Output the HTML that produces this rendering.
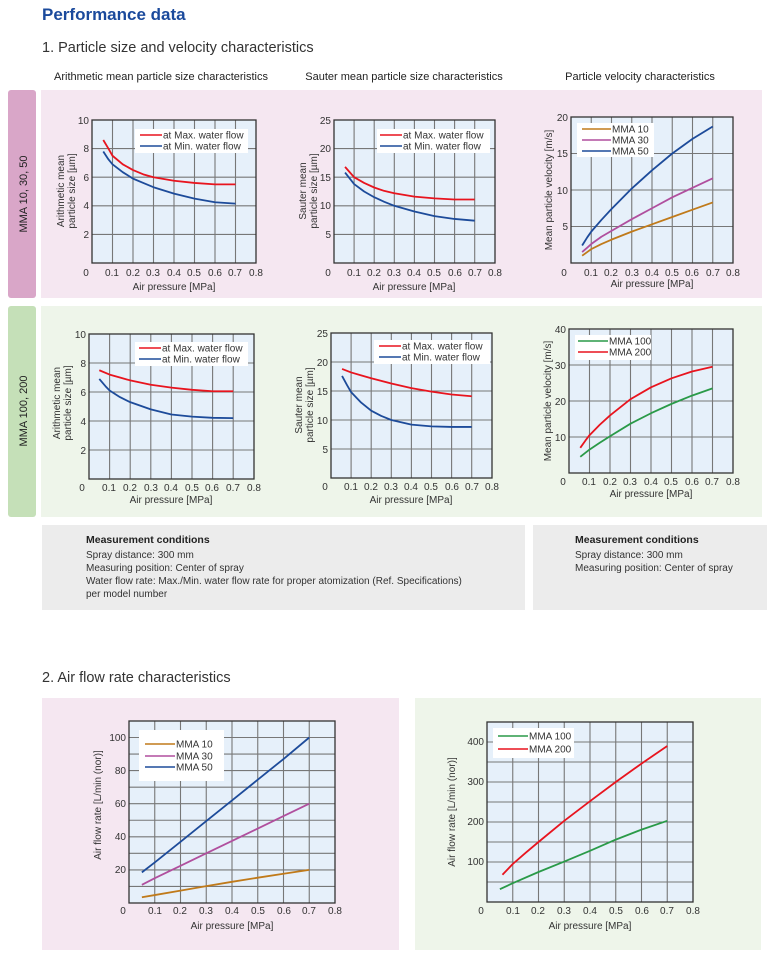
<!DOCTYPE html>
<html><head><meta charset="utf-8"><style>
html,body{margin:0;padding:0;background:#fff}
svg{display:block;font-family:"Liberation Sans",sans-serif}
.t{font-size:10px;fill:#333}
.lg{font-size:10px;fill:#333}
.gr{stroke:#777;stroke-width:1.1;vector-effect:non-scaling-stroke;fill:none}
.c{fill:none;stroke-width:1.8;vector-effect:non-scaling-stroke;stroke-linejoin:round}
.mt{font-size:10px;fill:#333}
</style></head><body>
<svg width="769" height="960" viewBox="0 0 769 960">
<text x="42" y="20" font-size="17" fill="#1b4a9c" font-weight="bold">Performance data</text>
<text x="42" y="52" font-size="14.5" fill="#333">1. Particle size and velocity characteristics</text>
<g font-size="11" fill="#222" text-anchor="middle">
<text x="161" y="80">Arithmetic mean particle size characteristics</text>
<text x="404" y="80">Sauter mean particle size characteristics</text>
<text x="640" y="80">Particle velocity characteristics</text></g>

<rect x="8" y="90" width="28" height="208" rx="3" fill="#d9a6c8"/>
<rect x="41" y="90" width="721" height="208" fill="#f5e7f1"/>
<text transform="translate(27,194) rotate(-90)" font-size="11" text-anchor="middle" fill="#222">MMA 10, 30, 50</text>
<rect x="8" y="306" width="28" height="211" rx="3" fill="#c5e0b8"/>
<rect x="41" y="306" width="721" height="211" fill="#eef5ea"/>
<text transform="translate(27,411) rotate(-90)" font-size="11" text-anchor="middle" fill="#222">MMA 100, 200</text>

<!-- Chart A1 -->
<rect x="92" y="120" width="164" height="143" fill="#e6f0fa"/>
<g transform="translate(92,263) scale(20.5,-14.3)">
<path class="gr" d="M1 0V10M2 0V10M3 0V10M4 0V10M5 0V10M6 0V10M7 0V10M0 2H8M0 4H8M0 6H8M0 8H8"/>
<polyline class="c" stroke="#e8141e" points="0.55,8.6 0.8,8 1,7.5 1.5,6.9 2,6.5 2.5,6.2 3,6 4,5.75 5,5.6 6,5.5 7,5.5"/>
<polyline class="c" stroke="#1d4b9a" points="0.55,7.8 0.8,7.25 1,6.9 1.5,6.35 2,5.9 2.5,5.6 3,5.3 4,4.85 5,4.5 6,4.25 7,4.15"/>
</g>
<rect x="92" y="120" width="164" height="143" fill="none" stroke="#333" stroke-width="1.3"/>
<rect x="135" y="129" width="113" height="24" fill="#fff"/>
<line x1="140" y1="135" x2="162" y2="135" stroke="#e8141e" stroke-width="1.6"/><text class="lg" x="163" y="138.5">at Max. water flow</text>
<line x1="140" y1="146" x2="162" y2="146" stroke="#1d4b9a" stroke-width="1.6"/><text class="lg" x="163" y="149.5">at Min. water flow</text>
<g class="t" text-anchor="end"><text x="89" y="124">10</text><text x="89" y="152">8</text><text x="89" y="181">6</text><text x="89" y="209">4</text><text x="89" y="238">2</text></g>
<g class="t" text-anchor="middle"><text x="86" y="276">0</text><text x="112" y="276">0.1</text><text x="133" y="276">0.2</text><text x="153" y="276">0.3</text><text x="174" y="276">0.4</text><text x="194" y="276">0.5</text><text x="215" y="276">0.6</text><text x="235" y="276">0.7</text><text x="256" y="276">0.8</text></g>
<text class="t" x="174" y="290" text-anchor="middle">Air pressure [MPa]</text>
<text class="t" transform="translate(64,191) rotate(-90)" text-anchor="middle">Arithmetic mean</text>
<text class="t" transform="translate(75,191) rotate(-90)" text-anchor="middle">particle size [µm]</text>

<!-- Chart S1 -->
<rect x="334" y="120" width="161" height="143" fill="#e6f0fa"/>
<g transform="translate(334,263) scale(20.1,-5.72)">
<path class="gr" d="M1 0V25M2 0V25M3 0V25M4 0V25M5 0V25M6 0V25M7 0V25M0 5H8M0 10H8M0 15H8M0 20H8"/>
<polyline class="c" stroke="#e8141e" points="0.55,16.8 0.8,15.8 1,15 1.5,14 2,13.2 2.5,12.6 3,12.2 4,11.6 5,11.3 6,11.1 7,11.1"/>
<polyline class="c" stroke="#1d4b9a" points="0.55,15.8 0.8,14.7 1,13.8 1.5,12.5 2,11.5 2.5,10.7 3,10 4,9 5,8.2 6,7.7 7,7.4"/>
</g>
<rect x="334" y="120" width="161" height="143" fill="none" stroke="#333" stroke-width="1.3"/>
<rect x="377" y="129" width="113" height="24" fill="#fff"/>
<line x1="380" y1="135" x2="402" y2="135" stroke="#e8141e" stroke-width="1.6"/><text class="lg" x="403" y="138.5">at Max. water flow</text>
<line x1="380" y1="146" x2="402" y2="146" stroke="#1d4b9a" stroke-width="1.6"/><text class="lg" x="403" y="149.5">at Min. water flow</text>
<g class="t" text-anchor="end"><text x="331" y="124">25</text><text x="331" y="152">20</text><text x="331" y="181">15</text><text x="331" y="209">10</text><text x="331" y="238">5</text></g>
<g class="t" text-anchor="middle"><text x="328" y="276">0</text><text x="354" y="276">0.1</text><text x="374" y="276">0.2</text><text x="394" y="276">0.3</text><text x="414" y="276">0.4</text><text x="434" y="276">0.5</text><text x="455" y="276">0.6</text><text x="475" y="276">0.7</text><text x="495" y="276">0.8</text></g>
<text class="t" x="414" y="290" text-anchor="middle">Air pressure [MPa]</text>
<text class="t" transform="translate(306,191) rotate(-90)" text-anchor="middle">Sauter mean</text>
<text class="t" transform="translate(317,191) rotate(-90)" text-anchor="middle">particle size [µm]</text>

<!-- Chart V1 -->
<rect x="571" y="117" width="162" height="146" fill="#e6f0fa"/>
<g transform="translate(571,263) scale(20.25,-7.3)">
<path class="gr" d="M1 0V20M2 0V20M3 0V20M4 0V20M5 0V20M6 0V20M7 0V20M0 5H8M0 10H8M0 15H8"/>
<polyline class="c" stroke="#c07a1a" points="0.55,1 0.8,1.5 1,1.9 1.5,2.6 2,3.2 3,4.3 4,5.3 5,6.3 6,7.3 7,8.3"/>
<polyline class="c" stroke="#b04f9e" points="0.55,1.5 0.8,2.1 1,2.6 1.5,3.6 2,4.4 3,6 4,7.5 5,9 6,10.3 7,11.6"/>
<polyline class="c" stroke="#1d4b9a" points="0.55,2.4 0.8,3.5 1,4.3 1.5,5.9 2,7.4 3,10.2 4,12.7 5,15 6,17 7,18.7"/>
</g>
<rect x="571" y="117" width="162" height="146" fill="none" stroke="#333" stroke-width="1.3"/>
<rect x="577" y="123" width="77" height="34" fill="#fff"/>
<line x1="582" y1="129" x2="611" y2="129" stroke="#c07a1a" stroke-width="1.6"/><text class="lg" x="612" y="132.5">MMA 10</text>
<line x1="582" y1="140" x2="611" y2="140" stroke="#b04f9e" stroke-width="1.6"/><text class="lg" x="612" y="143.5">MMA 30</text>
<line x1="582" y1="151" x2="611" y2="151" stroke="#1d4b9a" stroke-width="1.6"/><text class="lg" x="612" y="154.5">MMA 50</text>
<g class="t" text-anchor="end"><text x="568" y="121">20</text><text x="568" y="157">15</text><text x="568" y="194">10</text><text x="568" y="230">5</text></g>
<g class="t" text-anchor="middle"><text x="564" y="276">0</text><text x="591" y="276">0.1</text><text x="611" y="276">0.2</text><text x="632" y="276">0.3</text><text x="652" y="276">0.4</text><text x="672" y="276">0.5</text><text x="692" y="276">0.6</text><text x="713" y="276">0.7</text><text x="733" y="276">0.8</text></g>
<text class="t" x="652" y="287" text-anchor="middle">Air pressure [MPa]</text>
<text class="t" transform="translate(552,190) rotate(-90)" text-anchor="middle">Mean particle velocity  [m/s]</text>

<!-- Chart A2 -->
<rect x="89" y="334" width="165" height="145" fill="#e6f0fa"/>
<g transform="translate(89,479) scale(20.6,-14.5)">
<path class="gr" d="M1 0V10M2 0V10M3 0V10M4 0V10M5 0V10M6 0V10M7 0V10M0 2H8M0 4H8M0 6H8M0 8H8"/>
<polyline class="c" stroke="#e8141e" points="0.5,7.5 1,7.2 1.5,7 2,6.8 3,6.5 4,6.3 5,6.15 6,6.05 7,6.05"/>
<polyline class="c" stroke="#1d4b9a" points="0.5,6.9 0.8,6.4 1,6.1 1.5,5.65 2,5.3 3,4.8 4,4.45 5,4.3 6,4.22 7,4.2"/>
</g>
<rect x="89" y="334" width="165" height="145" fill="none" stroke="#333" stroke-width="1.3"/>
<rect x="135" y="342" width="113" height="24" fill="#fff"/>
<line x1="139" y1="348" x2="161" y2="348" stroke="#e8141e" stroke-width="1.6"/><text class="lg" x="162" y="351.5">at Max. water flow</text>
<line x1="139" y1="359" x2="161" y2="359" stroke="#1d4b9a" stroke-width="1.6"/><text class="lg" x="162" y="362.5">at Min. water flow</text>
<g class="t" text-anchor="end"><text x="86" y="338">10</text><text x="86" y="367">8</text><text x="86" y="396">6</text><text x="86" y="425">4</text><text x="86" y="454">2</text></g>
<g class="t" text-anchor="middle"><text x="82" y="491">0</text><text x="109" y="491">0.1</text><text x="130" y="491">0.2</text><text x="151" y="491">0.3</text><text x="171" y="491">0.4</text><text x="192" y="491">0.5</text><text x="212" y="491">0.6</text><text x="233" y="491">0.7</text><text x="254" y="491">0.8</text></g>
<text class="t" x="171" y="503" text-anchor="middle">Air pressure [MPa]</text>
<text class="t" transform="translate(60,403) rotate(-90)" text-anchor="middle">Arithmetic mean</text>
<text class="t" transform="translate(71,403) rotate(-90)" text-anchor="middle">particle size [µm]</text>

<!-- Chart S2 -->
<rect x="331" y="333" width="161" height="145" fill="#e6f0fa"/>
<g transform="translate(331,478) scale(20.1,-5.8)">
<path class="gr" d="M1 0V25M2 0V25M3 0V25M4 0V25M5 0V25M6 0V25M7 0V25M0 5H8M0 10H8M0 15H8M0 20H8"/>
<polyline class="c" stroke="#e8141e" points="0.55,18.8 1,18.2 1.5,17.7 2,17.2 3,16.3 4,15.5 5,14.9 6,14.4 7,14.1"/>
<polyline class="c" stroke="#1d4b9a" points="0.55,17.6 0.8,16 1,14.8 1.5,13 2,11.6 2.5,10.7 3,10 4,9.2 5,8.9 6,8.8 7,8.8"/>
</g>
<rect x="331" y="333" width="161" height="145" fill="none" stroke="#333" stroke-width="1.3"/>
<rect x="374" y="340" width="116" height="24" fill="#fff"/>
<line x1="379" y1="346" x2="401" y2="346" stroke="#e8141e" stroke-width="1.6"/><text class="lg" x="402" y="349.5">at Max. water flow</text>
<line x1="379" y1="357" x2="401" y2="357" stroke="#1d4b9a" stroke-width="1.6"/><text class="lg" x="402" y="360.5">at Min. water flow</text>
<g class="t" text-anchor="end"><text x="328" y="337">25</text><text x="328" y="366">20</text><text x="328" y="395">15</text><text x="328" y="424">10</text><text x="328" y="453">5</text></g>
<g class="t" text-anchor="middle"><text x="325" y="490">0</text><text x="351" y="490">0.1</text><text x="371" y="490">0.2</text><text x="391" y="490">0.3</text><text x="411" y="490">0.4</text><text x="431" y="490">0.5</text><text x="452" y="490">0.6</text><text x="472" y="490">0.7</text><text x="492" y="490">0.8</text></g>
<text class="t" x="411" y="503" text-anchor="middle">Air pressure [MPa]</text>
<text class="t" transform="translate(302,405) rotate(-90)" text-anchor="middle">Sauter mean</text>
<text class="t" transform="translate(313,405) rotate(-90)" text-anchor="middle">particle size [µm]</text>

<!-- Chart V2 -->
<rect x="569" y="329" width="164" height="144" fill="#e6f0fa"/>
<g transform="translate(569,473) scale(20.5,-3.6)">
<path class="gr" d="M1 0V40M2 0V40M3 0V40M4 0V40M5 0V40M6 0V40M7 0V40M0 10H8M0 20H8M0 30H8"/>
<polyline class="c" stroke="#2a9a48" points="0.55,4.5 1,6.5 1.5,8.4 2,10.2 3,13.7 4,16.6 5,19.2 6,21.5 7,23.5"/>
<polyline class="c" stroke="#e8141e" points="0.55,7 0.8,9 1,10.5 1.5,13.4 2,16 3,20.5 4,23.8 5,26.3 6,28.2 7,29.5"/>
</g>
<rect x="569" y="329" width="164" height="144" fill="none" stroke="#333" stroke-width="1.3"/>
<rect x="575" y="335" width="76" height="25" fill="#fff"/>
<line x1="578" y1="341" x2="608" y2="341" stroke="#2a9a48" stroke-width="1.6"/><text class="lg" x="609" y="344.5">MMA 100</text>
<line x1="578" y1="352" x2="608" y2="352" stroke="#e8141e" stroke-width="1.6"/><text class="lg" x="609" y="355.5">MMA 200</text>
<g class="t" text-anchor="end"><text x="566" y="333">40</text><text x="566" y="369">30</text><text x="566" y="405">20</text><text x="566" y="441">10</text></g>
<g class="t" text-anchor="middle"><text x="563" y="485">0</text><text x="589" y="485">0.1</text><text x="610" y="485">0.2</text><text x="630" y="485">0.3</text><text x="651" y="485">0.4</text><text x="671" y="485">0.5</text><text x="692" y="485">0.6</text><text x="712" y="485">0.7</text><text x="733" y="485">0.8</text></g>
<text class="t" x="651" y="497" text-anchor="middle">Air pressure [MPa]</text>
<text class="t" transform="translate(551,401) rotate(-90)" text-anchor="middle">Mean particle velocity  [m/s]</text>

<!-- Measurement boxes -->
<rect x="42" y="525" width="483" height="85" fill="#ececec"/>
<rect x="533" y="525" width="234" height="85" fill="#ececec"/>
<text x="86" y="543" font-size="10.5" font-weight="bold" fill="#222">Measurement conditions</text>
<g class="mt"><text x="86" y="558">Spray distance:  300 mm</text><text x="86" y="571">Measuring position: Center of spray</text><text x="86" y="584">Water flow rate:  Max./Min. water flow rate for proper atomization (Ref. Specifications)</text><text x="86" y="597">per model number</text></g>
<text x="575" y="543" font-size="10.5" font-weight="bold" fill="#222">Measurement conditions</text>
<g class="mt"><text x="575" y="558">Spray distance:  300 mm</text><text x="575" y="571">Measuring position: Center of spray</text></g>

<text x="42" y="682" font-size="14.5" fill="#333">2. Air flow rate characteristics</text>

<rect x="42" y="698" width="357" height="252" fill="#f5e7f1"/>
<rect x="415" y="698" width="346" height="252" fill="#eef5ea"/>

<!-- Chart F1 -->
<rect x="129" y="721" width="206" height="182" fill="#e6f0fa"/>
<g transform="translate(129,903) scale(25.75,-1.655)">
<path class="gr" d="M1 0V110M2 0V110M3 0V110M4 0V110M5 0V110M6 0V110M7 0V110M0 10H8M0 20H8M0 30H8M0 40H8M0 50H8M0 60H8M0 70H8M0 80H8M0 90H8M0 100H8"/>
<polyline class="c" stroke="#c07a1a" points="0.5,3.5 1,4.8 2,7.5 3,10.2 4,12.8 5,15.3 6,17.7 7,20"/>
<polyline class="c" stroke="#b04f9e" points="0.5,11 1,15 2,22.5 3,30 4,37.5 5,45 6,52.5 7,60"/>
<polyline class="c" stroke="#1d4b9a" points="0.5,18.5 1,24.5 2,37 3,49.5 4,62 5,74.5 6,87 7,100"/>
</g>
<rect x="129" y="721" width="206" height="182" fill="none" stroke="#333" stroke-width="1.3"/>
<rect x="139" y="730" width="85" height="51" fill="#fff"/>
<line x1="145" y1="744" x2="175" y2="744" stroke="#c07a1a" stroke-width="1.6"/><text class="lg" x="176" y="747.5">MMA 10</text>
<line x1="145" y1="756" x2="175" y2="756" stroke="#b04f9e" stroke-width="1.6"/><text class="lg" x="176" y="759.5">MMA 30</text>
<line x1="145" y1="767" x2="175" y2="767" stroke="#1d4b9a" stroke-width="1.6"/><text class="lg" x="176" y="770.5">MMA 50</text>
<g class="t" text-anchor="end"><text x="126" y="741">100</text><text x="126" y="774">80</text><text x="126" y="807">60</text><text x="126" y="840">40</text><text x="126" y="873">20</text></g>
<g class="t" text-anchor="middle"><text x="123" y="914">0</text><text x="155" y="914">0.1</text><text x="180" y="914">0.2</text><text x="206" y="914">0.3</text><text x="232" y="914">0.4</text><text x="258" y="914">0.5</text><text x="284" y="914">0.6</text><text x="309" y="914">0.7</text><text x="335" y="914">0.8</text></g>
<text class="t" x="232" y="929" text-anchor="middle">Air pressure [MPa]</text>
<text class="t" transform="translate(101,805) rotate(-90)" text-anchor="middle">Air flow rate  [L/min (nor)]</text>

<!-- Chart F2 -->
<rect x="487" y="722" width="206" height="180" fill="#e6f0fa"/>
<g transform="translate(487,902) scale(25.75,-0.4)">
<path class="gr" d="M1 0V450M2 0V450M3 0V450M4 0V450M5 0V450M6 0V450M7 0V450M0 50H8M0 100H8M0 150H8M0 200H8M0 250H8M0 300H8M0 350H8M0 400H8"/>
<polyline class="c" stroke="#2a9a48" points="0.5,32 1,47 2,75 3,101 4,128 5,156 6,181 7,203"/>
<polyline class="c" stroke="#e8141e" points="0.6,68 1,95 1.5,123 2,150 3,203 4,252 5,300 6,346 7,390"/>
</g>
<rect x="487" y="722" width="206" height="180" fill="none" stroke="#333" stroke-width="1.3"/>
<rect x="493" y="728" width="81" height="30" fill="#fff"/>
<line x1="498" y1="736" x2="528" y2="736" stroke="#2a9a48" stroke-width="1.6"/><text class="lg" x="529" y="739.5">MMA 100</text>
<line x1="498" y1="749" x2="528" y2="749" stroke="#e8141e" stroke-width="1.6"/><text class="lg" x="529" y="752.5">MMA 200</text>
<g class="t" text-anchor="end"><text x="484" y="745">400</text><text x="484" y="785">300</text><text x="484" y="825">200</text><text x="484" y="865">100</text></g>
<g class="t" text-anchor="middle"><text x="481" y="914">0</text><text x="513" y="914">0.1</text><text x="538" y="914">0.2</text><text x="564" y="914">0.3</text><text x="590" y="914">0.4</text><text x="616" y="914">0.5</text><text x="642" y="914">0.6</text><text x="667" y="914">0.7</text><text x="693" y="914">0.8</text></g>
<text class="t" x="590" y="929" text-anchor="middle">Air pressure [MPa]</text>
<text class="t" transform="translate(455,812) rotate(-90)" text-anchor="middle">Air flow rate  [L/min (nor)]</text>
</svg>
</body></html>
